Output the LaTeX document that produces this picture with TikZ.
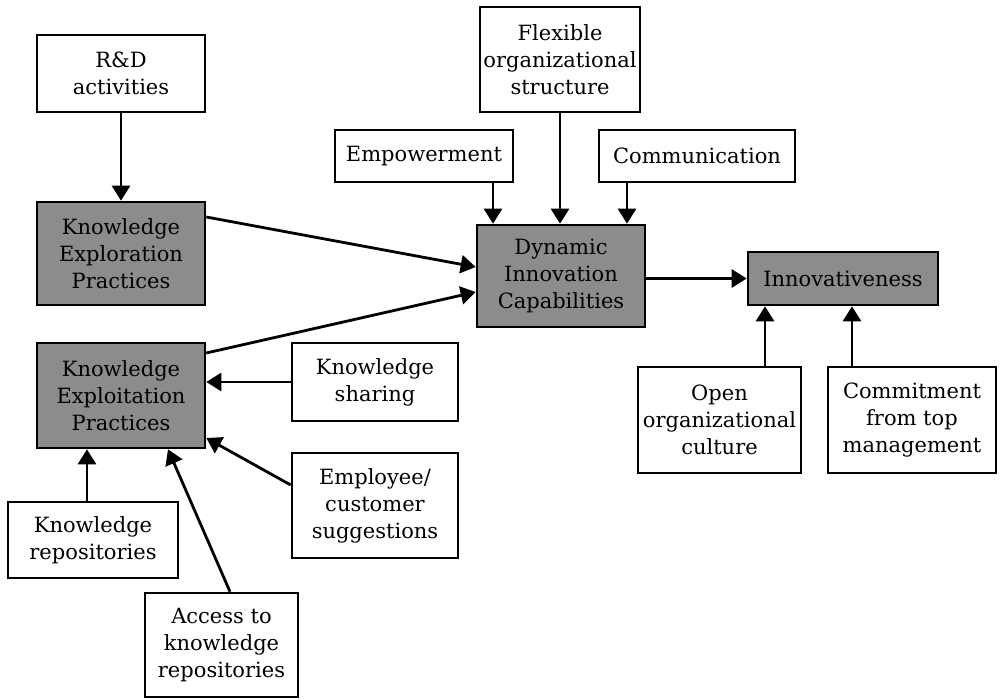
\documentclass[tikz,border=0pt]{standalone}
\usepackage{fontspec}
\setmainfont{DejaVu Serif}
\usetikzlibrary{arrows.meta,calc}
\tikzset{
  box/.style={draw=black, line width=2.6pt, fill=white, inner sep=0pt, align=center,
    font=\fontsize{21}{27}\selectfont},
  shaded/.style={box, fill=black!45},
  arr/.style={line width=2.8pt, -{Triangle[length=15pt,width=18pt]}}
}
\begin{document}
\begin{tikzpicture}[x=1pt,y=-1pt]
\useasboundingbox (0,0) rectangle (1003,699);
% boxes
\node[box, minimum width=168, minimum height=77] (rd) at (121,73.5) {R\&D\\activities};
\node[shaded, minimum width=168, minimum height=103] (explor) at (121,253.5) {Knowledge\\Exploration\\Practices};
\node[shaded, minimum width=168, minimum height=105] (exploit) at (121,395.5) {Knowledge\\Exploitation\\Practices};
\node[box, minimum width=160, minimum height=105] (flex) at (560,59.5) {Flexible\\organizational\\structure};
\node[box, minimum width=178, minimum height=52] (emp) at (424,156) {Empowerment};
\node[box, minimum width=196, minimum height=52] (comm) at (697,156) {Communication};
\node[shaded, minimum width=168, minimum height=102] (dyn) at (561,276) {Dynamic\\Innovation\\Capabilities};
\node[shaded, minimum width=190, minimum height=53] (innov) at (843,278.5) {Innovativeness};
\node[box, minimum width=163, minimum height=106] (open) at (719.5,420) {Open\\organizational\\culture};
\node[box, minimum width=168, minimum height=106] (commit) at (912,420) {Commitment\\from top\\management};
\node[box, minimum width=166, minimum height=78] (share) at (375,382) {Knowledge\\sharing};
\node[box, minimum width=166, minimum height=105] (empl) at (375,505.5) {Employee/\\customer\\suggestions};
\node[box, minimum width=170, minimum height=76] (repo) at (93,540) {Knowledge\\repositories};
\node[box, minimum width=153, minimum height=104] (access) at (221.5,645) {Access to\\knowledge\\repositories};
% connectors
\draw[arr] (rd.south) -- (explor.north);
\draw[arr] ($(explor.east)+(0,-36.5)$) -- ($(dyn.west)+(0,-9)$);
\draw[arr] ($(exploit.east)+(0,-42.5)$) -- ($(dyn.west)+(0,16)$);
\draw[arr] ($(emp.south)+(69,0)$) -- ($(dyn.north)+(-68,0)$);
\draw[arr] (flex.south) -- (flex.south |- dyn.north);
\draw[arr] ($(comm.south)+(-70,0)$) -- ($(dyn.north)+(66,0)$);
\draw[arr] (dyn.east |- innov.west) -- (innov.west);
\draw[arr] ($(open.north)+(45.5,0)$) -- ($(innov.south)+(-78,0)$);
\draw[arr] ($(commit.north)+(-60,0)$) -- ($(innov.south)+(9,0)$);
\draw[arr] (share.west) -- (share.west -| exploit.east);
\draw[arr] ($(empl.west)+(0,-20.5)$) -- ($(exploit.east)+(0,42.5)$);
\draw[arr] ($(repo.north)+(-6,0)$) -- ($(exploit.south)+(-34,0)$);
\draw[arr] ($(access.north)+(8.5,0)$) -- ($(exploit.south)+(47,0)$);
\end{tikzpicture}
\end{document}
